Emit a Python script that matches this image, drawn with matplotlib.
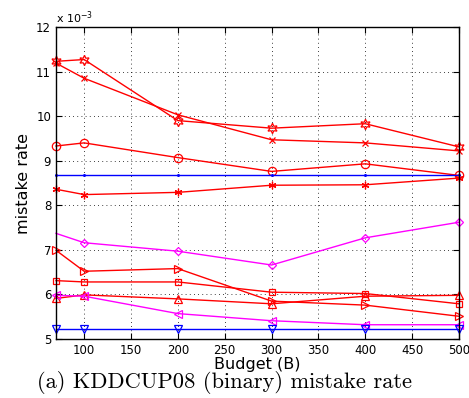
import matplotlib.pyplot as plt
from matplotlib.ticker import MultipleLocator

# Data (mistake rate in units of 1e-3)
budget = [70, 100, 200, 300, 400, 500]

hexagram_vals = [11.23, 11.27, 9.90, 9.73, 9.83, 9.31]
xmark_vals = [11.19, 10.85, 10.03, 9.47, 9.40, 9.22]
circle_vals = [9.33, 9.40, 9.07, 8.76, 8.93, 8.67]
dot_vals = [8.69, 8.69, 8.69, 8.69, 8.69, 8.69]
star_vals = [8.36, 8.24, 8.29, 8.45, 8.46, 8.61]
diamond_vals = [7.37, 7.16, 6.97, 6.66, 7.27, 7.62]
right_vals = [6.99, 6.52, 6.58, 5.85, 5.76, 5.51]
square_vals = [6.31, 6.28, 6.28, 6.05, 6.02, 5.79]
up_vals = [5.91, 5.99, 5.90, 5.79, 5.96, 5.98]
left_vals = [5.98, 5.96, 5.57, 5.41, 5.32, 5.32]
down_vals = [5.22, 5.22, 5.22, 5.22, 5.22, 5.22]

x_ticks = [100, 150, 200, 250, 300, 350, 400, 450, 500]

fig = plt.figure(figsize=(4.69, 3.98), dpi=100)
ax = fig.add_axes([56 / 469, 1 - 339 / 398, (459 - 56) / 469, (339 - 27) / 398])

red, mag, blue = (1, 0, 0), (1, 0, 1), (0, 0, 1)
kw = dict(lw=1.0, mfc='none', mew=0.9, clip_on=False)

ax.plot(budget, hexagram_vals, color=red, marker=(6, 1, 0), ms=7.5, **kw)
ax.plot(budget, xmark_vals, color=red, marker='x', ms=4.5, **kw)
ax.plot(budget, circle_vals, color=red, marker='o', ms=6, **kw)
ax.plot(budget, dot_vals, color=blue, marker='.', ms=2.5, **kw)
ax.plot(budget, star_vals, color=red, marker=(6, 2, 0), ms=5.5, **kw)
ax.plot(budget, diamond_vals, color=mag, marker='D', ms=4.5, markevery=[1, 2, 3, 4, 5], **kw)
ax.plot(budget, right_vals, color=red, marker='>', ms=6, **kw)
ax.plot(budget, square_vals, color=red, marker='s', ms=5, **kw)
ax.plot(budget, up_vals, color=red, marker='^', ms=6, **kw)
ax.plot(budget, left_vals, color=mag, marker='<', ms=6, **kw)
ax.plot(budget, down_vals, color=blue, marker='v', ms=6, **kw)

ax.set_xlim(70, 500)
ax.set_ylim(5, 12)
ax.set_xticks(x_ticks)
ax.yaxis.set_major_locator(MultipleLocator(1))
ax.tick_params(direction='in', top=True, right=True, labelsize=8.5, length=4)
ax.grid(True, color='black', linestyle=(0, (1, 4)), linewidth=0.6)
for s in ax.spines.values():
    s.set_linewidth(1.0)

ax.set_xlabel('Budget (B)', fontsize=11.5, labelpad=0)
ax.set_ylabel('mistake rate', fontsize=11.5, labelpad=4)
fig.text(56 / 469, 1 - 18 / 398, r'x 10$^{-3}$', fontsize=8, va='center')

fig.text(224 / 469, 1 - 382 / 398, '(a) KDDCUP08 (binary) mistake rate',
         ha='center', va='center', fontsize=16.2, family='cmr10')

plt.savefig('out.png', dpi=100)
